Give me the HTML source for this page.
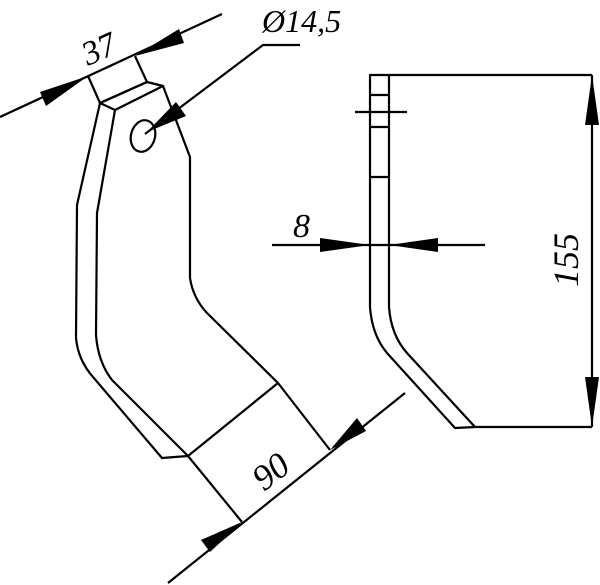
<!DOCTYPE html>
<html><head><style>html,body{margin:0;padding:0;background:#fff;}svg{display:block}</style></head>
<body>
<svg width="600" height="585" viewBox="0 0 600 585" xmlns="http://www.w3.org/2000/svg">
<g fill="none" stroke="#000" stroke-width="2.2" stroke-linejoin="round">
<polyline points="88,76 100,103 147,82 135,56"/>
<polygon points="100,103 147,82 163,86 115,110"/>
<path d="M100,103 L77,205 L76,338 Q78,360 93,377 L162,458 L188,456"/>
<path d="M115,110 L97,213 L96,335 Q98,362 112,380 L188,456"/>
<path d="M163,86 L190,157 L190,278 Q193,298 207,313 L278,383"/>
<path d="M278,383 L188,456 L242,522"/>
<path d="M278,383 L330,450"/>
<ellipse cx="143" cy="136" rx="12" ry="16" transform="rotate(15 143 136)"/>
<line x1="0" y1="117" x2="222" y2="14"/>
<polyline points="145,134 263,45 300,45"/>
<line x1="168" y1="583" x2="405" y2="393"/>
<path d="M592,75 L370,75 L370,307 Q372,335 387,353 L455,428 L475,427 L592,427"/>
<path d="M389,75 L389,307 Q391,335 407,353 L475,427"/>
<line x1="370" y1="95" x2="389" y2="95"/>
<line x1="370" y1="127" x2="389" y2="127"/>
<line x1="370" y1="177" x2="389" y2="177"/>
<line x1="355" y1="112" x2="407" y2="112"/>
<line x1="592" y1="75" x2="592" y2="427"/>
<line x1="272" y1="245" x2="485" y2="245"/>
</g>
<g fill="#000">
<polygon points="88,76 40,92 46,106"/>
<polygon points="135,56 179,29 184,43"/>
<polygon points="147,132 176,102 186,116"/>
<polygon points="242,522 201,540 210,552"/>
<polygon points="330,450 357,418 366,431"/>
<polygon points="370,245 320,238 320,252"/>
<polygon points="389,245 438,238 438,252"/>
<polygon points="592,75 585,125 599,125"/>
<polygon points="592,427 585,377 599,377"/>
</g>
<g font-family="Liberation Serif, serif" font-style="italic" fill="#000">
<text font-size="34" transform="translate(88,66) rotate(-24)">37</text>
<text font-size="32" x="262" y="32">Ø14,5</text>
<text font-size="34" x="293" y="237">8</text>
<text font-size="36" transform="translate(578,287) rotate(-90)">155</text>
<text font-size="36" transform="translate(264,492) rotate(-38)">90</text>
</g>
</svg>
</body></html>
